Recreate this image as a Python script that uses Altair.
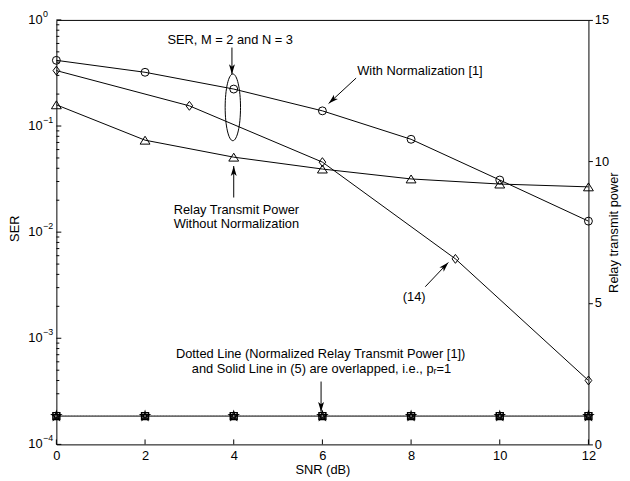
import altair as alt
import pandas as pd

FONT = "Liberation Sans, Arial, Helvetica, sans-serif"

# ---------------- data ----------------
snr = [0, 2, 4, 6, 8, 10, 12]
ser_with_norm = [0.416, 0.321, 0.223, 0.139, 0.075, 0.031, 0.0127]      # circles
snr_eq14 = [0, 3, 6, 9, 12]
ser_eq14 = [0.333, 0.155, 0.0457, 0.0056, 0.0004]                        # diamonds (14)
power_without_norm = [12.0, 10.75, 10.15, 9.73, 9.38, 9.2, 9.1]          # triangles
power_norm = [1, 1, 1, 1, 1, 1, 1]                                       # dotted line
power_eq5 = [1, 1, 1, 1, 1, 1, 1]                                        # solid line (5)

# axis ticks
x_ticks = [0, 2, 4, 6, 8, 10, 12]
ser_major = [1, 0.1, 0.01, 0.001, 0.0001]
ser_exp = ["0", "\u22121", "\u22122", "\u22123", "\u22124"]
ser_minor = [k * 10.0 ** d for d in [-4, -3, -2, -1] for k in range(2, 10)]
pow_ticks = [0, 5, 10, 15]

# annotations (x in SNR, y in SER units)
ann_text = ["SER, M = 2 and N = 3", "With Normalization [1]",
            "Relay Transmit Power", "Without Normalization", "(14)",
            "Dotted Line (Normalized Relay Transmit Power [1])",
            "and Solid Line in (5) are overlapped, i.e., p\u1d63=1"]
ann_x = [3.92, 8.2, 4.06, 4.06, 8.07, 5.96, 5.98]
ann_y = [0.652, 0.328, 0.0160, 0.01187, 0.00247, 0.000703, 0.000509]

arrow_x0 = [3.96, 6.76, 4.0, 8.32, 5.97]
arrow_y0 = [0.549, 0.283, 0.0212, 0.00306, 0.000391]
arrow_x1 = [3.96, 6.14, 4.0, 8.84, 5.97]
arrow_y1 = [0.308, 0.163, 0.042, 0.00518, 0.000203]
arrow_angle = [180, 228, 0, 43.5, 180]

ellipse_x = [3.98]
ellipse_y = [0.150]

# ---------------- scales / axes ----------------
x_scale = alt.Scale(domain=[0, 12], nice=False, zero=False)
ser_scale = alt.Scale(type="log", domain=[1e-4, 1], nice=False)
pow_scale = alt.Scale(domain=[0, 15], nice=False, zero=True)

x_axis = alt.Axis(title="SNR (dB)", values=x_ticks, ticks=False, domain=False, grid=False,
                  labelPadding=5, labelFontSize=13, labelFont=FONT, labelColor="black",
                  labelFlush=False, labelOverlap=False,
                  titleFont=FONT, titleFontSize=13, titleFontWeight="normal", titleColor="black",
                  titleX=269.5, titleY=26, titleBaseline="middle")
ser_axis = alt.Axis(title="SER", labels=False, ticks=False, domain=False, grid=False,
                    titleFont=FONT, titleFontSize=13, titleFontWeight="normal", titleColor="black",
                    titleX=-42, titleY=211, titleAngle=270, titleBaseline="middle", titleAlign="center")
pow_axis = alt.Axis(title="Relay transmit power", orient="right", values=pow_ticks,
                    tickSize=4, tickColor="black", domain=False, grid=False,
                    labelPadding=2, labelFontSize=13, labelFont=FONT, labelColor="black",
                    labelFlush=False, labelOverlap=False,
                    titleFont=FONT, titleFontSize=13, titleFontWeight="normal", titleColor="black",
                    titleX=25, titleY=215, titleAngle=270, titleBaseline="middle", titleAlign="center")


def X(f):
    return alt.X(f, type="quantitative", scale=x_scale, axis=x_axis)


def YS(f):
    return alt.Y(f, type="quantitative", scale=ser_scale, axis=ser_axis)


def YP(f):
    return alt.Y(f, type="quantitative", scale=pow_scale, axis=pow_axis)


DIAMOND = "M0,-1L0.75,0L0,1L-0.75,0Z"
TRIANGLE = "M0,-0.8L1,0.8L-1,0.8Z"
STAR = "M0,-1L0.588,0.809L-0.951,-0.309L0.951,-0.309L-0.588,0.809Z"
ARROWHEAD = "M0,0L0.6,2L0,1.5L-0.6,2Z"
a = 0.23
k = 0.5523 * a
ELLIPSE = (f"M0,-1C{k},-1 {a},-0.5523 {a},0C{a},0.5523 {k},1 0,1"
           f"C{-k},1 {-a},0.5523 {-a},0C{-a},-0.5523 {-k},-1 0,-1Z")

# ---------------- data frames ----------------
df_norm = pd.DataFrame({"snr": snr, "ser": ser_with_norm})
df_14 = pd.DataFrame({"snr": snr_eq14, "ser": ser_eq14})
df_pow = pd.DataFrame({"snr": snr, "p": power_without_norm})
df_pn = pd.DataFrame({"snr": snr, "p": power_norm})
df_p5 = pd.DataFrame({"snr": snr, "p": power_eq5})
df_ann = pd.DataFrame({"x": ann_x, "y": ann_y, "t": ann_text})
df_arr = pd.DataFrame({"x0": arrow_x0, "y0": arrow_y0, "x1": arrow_x1, "y1": arrow_y1,
                       "ang": arrow_angle})
df_ell = pd.DataFrame({"x": ellipse_x, "y": ellipse_y})
df_major = pd.DataFrame({"v": ser_major, "e": ser_exp})
df_minor = pd.DataFrame({"v": ser_minor})
df_xt = pd.DataFrame({"v": x_ticks})

# ---------------- left (SER) group ----------------
l_norm_line = alt.Chart(df_norm).mark_line(color="black", strokeWidth=1).encode(x=X("snr"), y=YS("ser"))
l_norm_pts = alt.Chart(df_norm).mark_point(shape="circle", size=64, filled=False, color="black",
                                           strokeWidth=1, opacity=1).encode(x=X("snr"), y=YS("ser"))
l_14_line = alt.Chart(df_14).mark_line(color="black", strokeWidth=1).encode(x=X("snr"), y=YS("ser"))
l_14_pts = alt.Chart(df_14).mark_point(shape=DIAMOND, size=81, filled=False, color="black",
                                       strokeWidth=1, opacity=1).encode(x=X("snr"), y=YS("ser"))
l_ell = alt.Chart(df_ell).mark_point(shape=ELLIPSE, size=4570, filled=False, color="black",
                                     strokeWidth=1, opacity=1).encode(x=X("x"), y=YS("y"))
l_shaft = alt.Chart(df_arr).mark_rule(color="black", strokeWidth=1).encode(
    x=X("x0"), y=YS("y0"), x2="x1", y2="y1")
l_head = alt.Chart(df_arr).mark_point(shape=ARROWHEAD, size=100, filled=True, color="black",
                                      opacity=1).encode(x=X("x1"), y=YS("y1"),
                                                        angle=alt.Angle("ang:Q", scale=None))
l_text = alt.Chart(df_ann).mark_text(font=FONT, fontSize=13, color="black", align="center",
                                     baseline="middle").encode(x=X("x"), y=YS("y"), text="t:N")
l_major = alt.Chart(df_major).mark_rule(color="black", strokeWidth=1).encode(
    y=YS("v"), x=alt.value(0), x2=alt.value(5))
l_minor = alt.Chart(df_minor).mark_rule(color="black", strokeWidth=1).encode(
    y=YS("v"), x=alt.value(0), x2=alt.value(3))
l_lab10 = alt.Chart(df_major).mark_text(font=FONT, fontSize=13, color="black", align="right",
                                        baseline="middle").encode(
    y=YS("v"), x=alt.value(-14), text=alt.value("10"))
l_labexp = alt.Chart(df_major).mark_text(font=FONT, fontSize=9, color="black", align="left",
                                         baseline="middle", dy=-6).encode(
    y=YS("v"), x=alt.value(-13.5), text="e:N")
l_xt = alt.Chart(df_xt).mark_rule(color="black", strokeWidth=1).encode(
    x=X("v"), y=alt.value(430), y2=alt.value(425))

left = alt.layer(l_norm_line, l_norm_pts, l_14_line, l_14_pts, l_ell, l_shaft, l_head, l_text,
                 l_major, l_minor, l_lab10, l_labexp, l_xt)

# ---------------- right (power) group ----------------
r_line = alt.Chart(df_pow).mark_line(color="black", strokeWidth=1).encode(x=X("snr"), y=YP("p"))
r_pts = alt.Chart(df_pow).mark_point(shape=TRIANGLE, size=100, filled=False, color="black",
                                     strokeWidth=1, opacity=1).encode(x=X("snr"), y=YP("p"))
r_solid = alt.Chart(df_p5).mark_line(color="black", strokeWidth=1).encode(x=X("snr"), y=YP("p"))
r_dot = alt.Chart(df_pn).mark_line(color="#666666", strokeWidth=1, strokeDash=[1, 2]).encode(
    x=X("snr"), y=YP("p"))
r_sq = alt.Chart(df_p5).mark_point(shape="square", size=49, filled=False, color="black",
                                   strokeWidth=1.5, opacity=1).encode(x=X("snr"), y=YP("p"))
r_star = alt.Chart(df_pn).mark_point(shape=STAR, size=90, filled=False, color="black",
                                     strokeWidth=1.2, opacity=1).encode(x=X("snr"), y=YP("p"))

right = alt.layer(r_line, r_pts, r_solid, r_dot, r_sq, r_star)

chart = alt.layer(left, right).resolve_scale(y="independent").properties(
    width=539, height=430,
    autosize=alt.AutoSizeParams(type="none"),
    padding={"left": 49, "top": 9, "right": 34, "bottom": 32},
    background="white",
).configure_view(stroke="black", strokeWidth=1)

chart.save("out.html", embed_options={"renderer": "svg", "actions": False})
